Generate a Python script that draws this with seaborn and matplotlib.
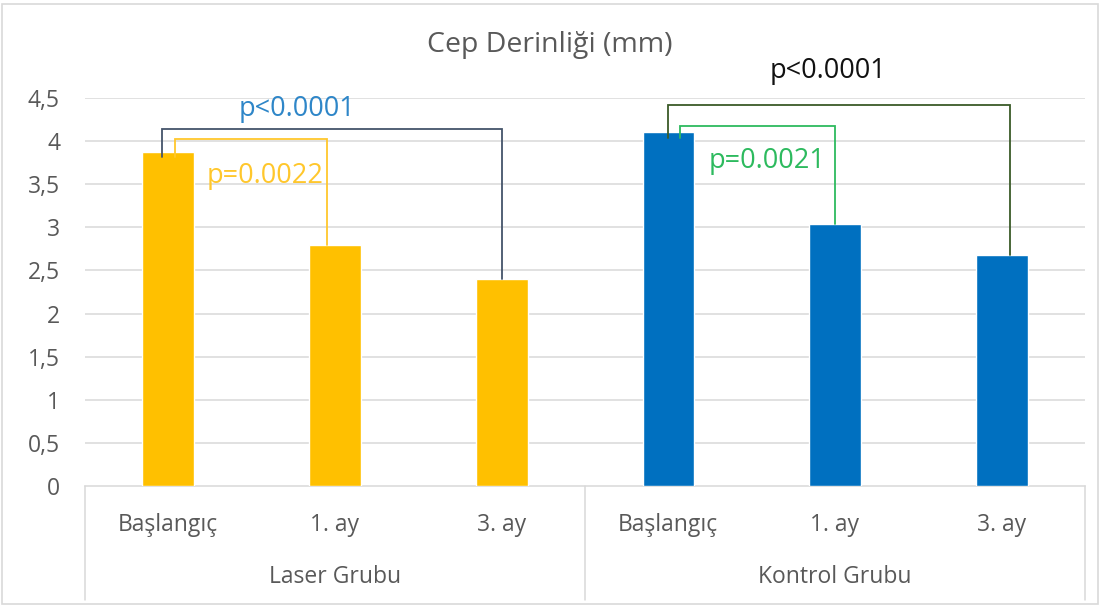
import matplotlib
matplotlib.use("Agg")
import matplotlib.pyplot as plt
import seaborn as sns
import pandas as pd
from matplotlib.lines import Line2D
from matplotlib.patches import Rectangle

# ---- data ----
groups = ["Laser Grubu", "Kontrol Grubu"]
timepoints = ["Başlangıç", "1. ay", "3. ay"]
laser_values = [3.87, 2.80, 2.40]
kontrol_values = [4.10, 3.04, 2.68]
ytick_values = [0, 0.5, 1, 1.5, 2, 2.5, 3, 3.5, 4, 4.5]
ytick_labels = ["0", "0,5", "1", "1,5", "2", "2,5", "3", "3,5", "4", "4,5"]
title = "Cep Derinliği (mm)"

# significance annotations: (from idx, to idx, bracket level, label)
laser_brackets = [(0, 2, 4.14, "p<0.0001"), (0, 1, 4.02, "p=0.0022")]
kontrol_brackets = [(0, 2, 4.42, "p<0.0001"), (0, 1, 4.17, "p=0.0021")]

bar_colors = {"Laser Grubu": "#FFC000", "Kontrol Grubu": "#0070C0"}

rows = []
for g, vals in zip(groups, [laser_values, kontrol_values]):
    for t, v in zip(timepoints, vals):
        rows.append({"key": f"{g}|{t}", "group": g, "time": t, "value": v})
df = pd.DataFrame(rows)
order = list(df["key"])

sns.set_theme(style="white")
plt.rcParams["font.family"] = ["Open Sans", "DejaVu Sans"]

W, H = 1100, 606
fig = plt.figure(figsize=(W / 100, H / 100), dpi=100)
ax = fig.add_axes([85 / W, 1 - 486 / H, 1000 / W, 388 / H])

sns.barplot(data=df, x="key", y="value", hue="group", order=order,
            palette=bar_colors, dodge=False, width=0.31, ax=ax,
            legend=False, saturation=1, zorder=3)

ax.set_xlim(-0.5, 5.5)
ax.set_ylim(0, 4.5)
ax.set_yticks(ytick_values)
ax.set_yticklabels(ytick_labels, color="#595959", fontsize=16.5)
ax.tick_params(axis="y", length=0, pad=18)
ax.set_xticks([])
ax.set_xlabel("")
ax.set_ylabel("")
for y in ytick_values[1:]:
    ax.axhline(y, color="#D9D9D9", lw=1.1, zorder=1)
for s in ["top", "right", "left"]:
    ax.spines[s].set_visible(False)
ax.spines["bottom"].set_color("#D9D9D9")
ax.spines["bottom"].set_linewidth(1.1)

# category axis (two level)
xt = ax.get_xaxis_transform()
for xa in [0, 0.5, 1]:
    ax.add_line(Line2D([xa, xa], [0, -0.294], transform=ax.transAxes,
                       color="#D9D9D9", lw=1.1, clip_on=False))
for i, row in df.iterrows():
    ax.text(i, -0.10, row["time"], transform=xt, ha="center", va="center",
            fontsize=16.5, color="#595959")
for gi, g in enumerate(groups):
    ax.text(gi * 3 + 1, -0.235, g, transform=xt, ha="center", va="center",
            fontsize=16.5, color="#595959")

fig.text(0.5, 1 - 45 / H, title, ha="center", va="center", fontsize=20.5,
         color="#595959")

# brackets
def bracket(base, vals, spec, color, left_off, right_off, lw=1.3):
    i, j, level, _ = spec
    x1 = base + i + left_off
    x2 = base + j + right_off
    ax.plot([x1, x1, x2, x2], [vals[i] - 0.06, level, level, vals[j]],
            color=color, lw=lw, zorder=4, clip_on=False,
            solid_joinstyle="miter")

bracket(0, laser_values, laser_brackets[0], "#44546A", -0.04, 0.0)
bracket(0, laser_values, laser_brackets[1], "#FFC72C", 0.04, -0.05)
bracket(3, kontrol_values, kontrol_brackets[0], "#3A5A28", 0.0, 0.05)
bracket(3, kontrol_values, kontrol_brackets[1], "#2DBA5E", 0.07, 0.0)

ax.text(0.77, 4.37, laser_brackets[0][3], ha="center", va="center",
        fontsize=19.5, color="#2E86C8", zorder=5)
ax.text(0.58, 3.60, laser_brackets[1][3], ha="center", va="center",
        fontsize=19.5, color="#FFC72C", zorder=5)
ax.text(3.96, 4.81, kontrol_brackets[0][3], ha="center", va="center",
        fontsize=19.5, color="#111111", zorder=5)
ax.text(3.59, 3.77, kontrol_brackets[1][3], ha="center", va="center",
        fontsize=19.5, color="#2DBA5E", zorder=5)

fig.patches.append(Rectangle((2 / W, 2 / H), 1 - 4 / W, 1 - 6 / H,
                             transform=fig.transFigure, fill=False,
                             edgecolor="#D9D9D9", lw=1.2))

fig.savefig("out.png", dpi=100, facecolor="white")
